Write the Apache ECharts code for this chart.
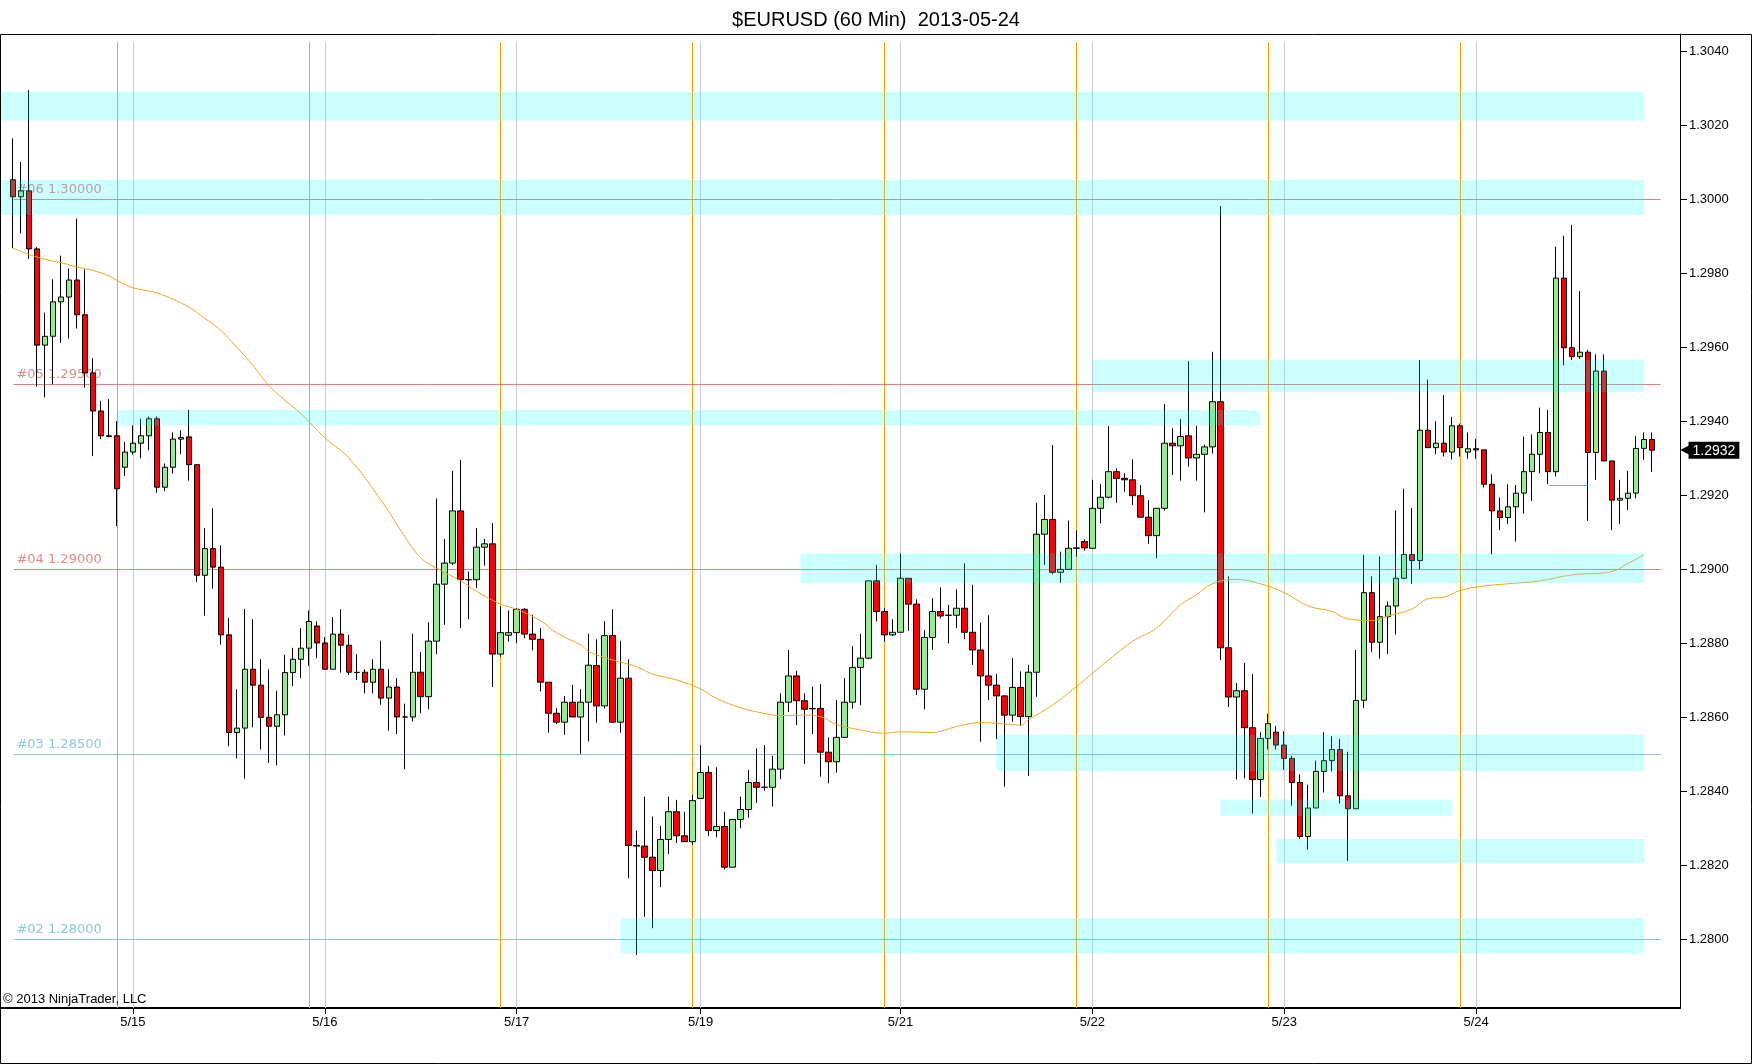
<!DOCTYPE html>
<html>
<head>
<meta charset="utf-8">
<title>$EURUSD (60 Min)</title>
<script src="https://cdn.jsdelivr.net/npm/echarts@6/dist/echarts.min.js"></script>
<style>
html, body { margin: 0; padding: 0; background: #fff; }
#chart { width: 1752px; height: 1064px; }
</style>
</head>
<body>
<div id="chart"></div>
<script>
// DATA

// hourly bars, [open, high, low, close]; the first one sits in slot 1
var bars = [
[1.30052,1.30164,1.29867,1.30006],[1.30006,1.30100,1.29907,1.30022],[1.30022,1.30294,1.29838,1.29865],[1.29865,1.29870,1.29493,1.29605],
[1.29605,1.29693,1.29464,1.29629],[1.29629,1.29783,1.29499,1.29722],[1.29722,1.29847,1.29611,1.29735],[1.29735,1.29812,1.29623,1.29781],
[1.29781,1.29947,1.29650,1.29687],[1.29687,1.29810,1.29490,1.29530],[1.29530,1.29570,1.29305,1.29427],[1.29427,1.29454,1.29351,1.29360],
[1.29360,1.29459,1.29356,1.29358],[1.29360,1.29400,1.29116,1.29217],[1.29275,1.29343,1.29251,1.29316],[1.29316,1.29388,1.29309,1.29340],
[1.29340,1.29406,1.29299,1.29360],[1.29360,1.29412,1.29321,1.29406],[1.29406,1.29412,1.29206,1.29221],[1.29221,1.29285,1.29210,1.29275],
[1.29275,1.29369,1.29258,1.29351],[1.29351,1.29375,1.29311,1.29355],[1.29357,1.29430,1.29239,1.29282],[1.29282,1.29282,1.28965,1.28983],
[1.28983,1.29110,1.28874,1.29055],[1.29055,1.29164,1.28947,1.29005],[1.29005,1.29064,1.28796,1.28822],[1.28822,1.28868,1.28521,1.28558],
[1.28558,1.28675,1.28488,1.28570],[1.28570,1.28892,1.28433,1.28729],[1.28729,1.28864,1.28572,1.28686],[1.28686,1.28756,1.28512,1.28599],
[1.28599,1.28729,1.28476,1.28575],[1.28575,1.28671,1.28469,1.28606],[1.28606,1.28768,1.28550,1.28720],[1.28720,1.28787,1.28684,1.28756],
[1.28756,1.28840,1.28705,1.28786],[1.28786,1.28888,1.28738,1.28858],[1.28846,1.28858,1.28759,1.28800],[1.28800,1.28816,1.28729,1.28729],
[1.28729,1.28870,1.28729,1.28824],[1.28824,1.28891,1.28720,1.28794],[1.28794,1.28822,1.28714,1.28721],[1.28721,1.28770,1.28700,1.28720],
[1.28721,1.28729,1.28664,1.28694],[1.28694,1.28756,1.28664,1.28729],[1.28729,1.28806,1.28633,1.28651],[1.28651,1.28729,1.28563,1.28681],
[1.28681,1.28705,1.28554,1.28600],[1.28600,1.28636,1.28459,1.28600],[1.28600,1.28825,1.28588,1.28721],[1.28721,1.28776,1.28610,1.28655],
[1.28655,1.28856,1.28621,1.28805],[1.28805,1.29191,1.28770,1.28959],[1.28959,1.29081,1.28849,1.29016],[1.29016,1.29265,1.29011,1.29157],
[1.29157,1.29295,1.28840,1.28971],[1.28971,1.28993,1.28864,1.28971],[1.28971,1.29110,1.28948,1.29059],[1.29059,1.29081,1.29009,1.29068],
[1.29068,1.29124,1.28681,1.28770],[1.28770,1.28899,1.28763,1.28828],[1.28821,1.28888,1.28804,1.28828],[1.28828,1.28894,1.28800,1.28891],
[1.28891,1.28894,1.28813,1.28824],[1.28824,1.28876,1.28780,1.28810],[1.28810,1.28840,1.28669,1.28694],[1.28694,1.28694,1.28558,1.28610],
[1.28610,1.28624,1.28581,1.28586],[1.28586,1.28657,1.28552,1.28640],[1.28640,1.28687,1.28600,1.28600],[1.28600,1.28675,1.28500,1.28640],
[1.28640,1.28825,1.28534,1.28740],[1.28739,1.28810,1.28585,1.28630],[1.28630,1.28859,1.28623,1.28820],[1.28820,1.28891,1.28586,1.28586],
[1.28586,1.28806,1.28558,1.28705],[1.28705,1.28756,1.28164,1.28253],[1.28253,1.28293,1.27957,1.28251],[1.28251,1.28385,1.28060,1.28221],
[1.28221,1.28331,1.28029,1.28185],[1.28185,1.28305,1.28140,1.28269],[1.28269,1.28385,1.28230,1.28344],[1.28344,1.28376,1.28259,1.28279],
[1.28279,1.28344,1.28263,1.28263],[1.28263,1.28389,1.28254,1.28374],[1.28380,1.28524,1.28380,1.28450],[1.28450,1.28468,1.28278,1.28293],
[1.28293,1.28464,1.28275,1.28304],[1.28304,1.28344,1.28188,1.28194],[1.28194,1.28323,1.28194,1.28323],[1.28323,1.28385,1.28299,1.28350],
[1.28350,1.28457,1.28328,1.28423],[1.28423,1.28515,1.28368,1.28410],[1.28410,1.28524,1.28401,1.28410],[1.28410,1.28495,1.28358,1.28459],
[1.28459,1.28664,1.28432,1.28640],[1.28640,1.28781,1.28613,1.28711],[1.28711,1.28725,1.28578,1.28644],[1.28644,1.28664,1.28473,1.28621],
[1.28623,1.28682,1.28554,1.28622],[1.28623,1.28689,1.28439,1.28505],[1.28505,1.28545,1.28421,1.28479],[1.28479,1.28646,1.28450,1.28545],
[1.28545,1.28705,1.28545,1.28640],[1.28640,1.28792,1.28623,1.28734],[1.28734,1.28824,1.28632,1.28759],[1.28759,1.28968,1.28756,1.28968],
[1.28968,1.29011,1.28858,1.28885],[1.28885,1.28894,1.28804,1.28822],[1.28822,1.28864,1.28819,1.28829],[1.28829,1.29042,1.28829,1.28975],
[1.28975,1.28975,1.28833,1.28905],[1.28905,1.28918,1.28659,1.28675],[1.28675,1.28835,1.28621,1.28815],[1.28815,1.28921,1.28781,1.28885],
[1.28885,1.28950,1.28867,1.28873],[1.28875,1.28903,1.28799,1.28875],[1.28875,1.28945,1.28840,1.28894],[1.28894,1.29015,1.28810,1.28829],
[1.28829,1.28957,1.28741,1.28781],[1.28781,1.28855,1.28533,1.28711],[1.28711,1.28875,1.28646,1.28686],[1.28686,1.28716,1.28540,1.28657],
[1.28657,1.28659,1.28412,1.28605],[1.28605,1.28759,1.28587,1.28680],[1.28680,1.28723,1.28576,1.28601],[1.28601,1.28741,1.28441,1.28721],
[1.28721,1.29179,1.28655,1.29094],[1.29094,1.29200,1.29011,1.29134],[1.29134,1.29335,1.28986,1.28991],[1.28991,1.29047,1.28963,1.28999],
[1.28999,1.29131,1.28999,1.29056],[1.29056,1.29105,1.29033,1.29057],[1.29074,1.29080,1.29050,1.29057],[1.29056,1.29241,1.29056,1.29164],
[1.29164,1.29230,1.29123,1.29194],[1.29194,1.29386,1.29191,1.29263],[1.29263,1.29272,1.29179,1.29245],[1.29245,1.29259,1.29209,1.29241],
[1.29241,1.29296,1.29173,1.29198],[1.29198,1.29227,1.29140,1.29140],[1.29140,1.29186,1.29068,1.29090],[1.29090,1.29164,1.29029,1.29164],
[1.29164,1.29446,1.29158,1.29340],[1.29340,1.29380,1.29254,1.29333],[1.29333,1.29405,1.29239,1.29358],[1.29360,1.29562,1.29277,1.29300],
[1.29300,1.29387,1.29239,1.29310],[1.29310,1.29336,1.29153,1.29330],[1.29330,1.29587,1.29312,1.29452],[1.29452,1.29981,1.28754,1.28787],
[1.28787,1.28980,1.28627,1.28654],[1.28654,1.28692,1.28431,1.28671],[1.28671,1.28746,1.28434,1.28571],[1.28571,1.28716,1.28339,1.28431],
[1.28431,1.28559,1.28384,1.28542],[1.28542,1.28609,1.28512,1.28582],[1.28559,1.28576,1.28512,1.28524],[1.28524,1.28562,1.28457,1.28488],
[1.28488,1.28495,1.28360,1.28423],[1.28423,1.28445,1.28271,1.28277],[1.28277,1.28417,1.28241,1.28354],[1.28354,1.28482,1.28354,1.28453],
[1.28453,1.28559,1.28396,1.28482],[1.28482,1.28548,1.28453,1.28512],[1.28512,1.28541,1.28366,1.28387],[1.28387,1.28506,1.28211,1.28352],
[1.28352,1.28781,1.28352,1.28645],[1.28645,1.29039,1.28624,1.28936],[1.28936,1.28980,1.28776,1.28802],[1.28802,1.29034,1.28758,1.28871],
[1.28871,1.28912,1.28770,1.28900],[1.28900,1.29158,1.28823,1.28975],[1.28975,1.29217,1.28972,1.29039],[1.29039,1.29165,1.28960,1.29023],
[1.29023,1.29565,1.28999,1.29375],[1.29375,1.29512,1.29328,1.29328],[1.29328,1.29399,1.29310,1.29340],[1.29340,1.29470,1.29304,1.29316],
[1.29316,1.29411,1.29296,1.29387],[1.29387,1.29393,1.29304,1.29328],[1.29316,1.29369,1.29298,1.29325],[1.29325,1.29352,1.29298,1.29322],
[1.29322,1.29322,1.29220,1.29229],[1.29229,1.29256,1.29040,1.29157],[1.29157,1.29193,1.29105,1.29139],[1.29139,1.29229,1.29121,1.29168],
[1.29168,1.29227,1.29074,1.29205],[1.29205,1.29358,1.29150,1.29263],[1.29263,1.29364,1.29184,1.29310],[1.29310,1.29436,1.29259,1.29369],
[1.29369,1.29430,1.29229,1.29263],[1.29263,1.29871,1.29250,1.29786],[1.29786,1.29901,1.29550,1.29598],[1.29598,1.29930,1.29565,1.29574],
[1.29574,1.29751,1.29568,1.29586],[1.29586,1.29592,1.29130,1.29315],[1.29315,1.29580,1.29241,1.29535],[1.29535,1.29580,1.29292,1.29292],
[1.29292,1.29292,1.29105,1.29186],[1.29186,1.29241,1.29121,1.29191],[1.29191,1.29265,1.29159,1.29205],[1.29205,1.29360,1.29191,1.29326],
[1.29326,1.29369,1.29295,1.29350],[1.29350,1.29369,1.29263,1.29321]
];
var firstSlot = 1;
var slotCount = 210;

// moving average: [slot, price]
var maPoints = [
[1,1.29867],[3,1.29850],[5,1.29837],[7,1.29828],[9,1.29816],[11,1.29807],[13,1.29792],[14,1.29780],[16,1.29760],
[19,1.29746],[23,1.29708],[25,1.29677],[27,1.29645],[29,1.29599],[31,1.29551],[33,1.29496],[35,1.29456],[37,1.29420],
[40,1.29355],[43,1.29300],[47,1.29187],[50,1.29088],[52,1.29030],[54,1.29002],[57,1.28968],[59,1.28939],[62,1.28905],
[64,1.28891],[67,1.28860],[69,1.28827],[72,1.28795],[73,1.28777],[76,1.28754],[79,1.28736],[81,1.28716],[84,1.28700],
[87,1.28676],[89,1.28650],[92,1.28625],[94,1.28614],[97,1.28604],[100,1.28605],[102,1.28601],[104,1.28580],[107,1.28565],
[110,1.28556],[112,1.28560],[116,1.28558],[119,1.28574],[122,1.28585],[124,1.28583],[127,1.28578],[128,1.28592],[131,1.28632],
[134,1.28682],[137,1.28736],[141,1.28804],[144,1.28840],[147,1.28903],[149,1.28930],[151,1.28960],[154,1.28972],[157,1.28960],
[160,1.28936],[163,1.28900],[166,1.28885],[168,1.28865],[171,1.28861],[173,1.28873],[176,1.28892],[178,1.28920],[180,1.28924],
[182,1.28942],[185,1.28954],[188,1.28960],[192,1.28968],[196,1.28984],[201,1.28993],[203,1.29015],[205,1.29038]
];

var dateLabels = [[16,'5/15'],[40,'5/16'],[64,'5/17'],[87,'5/19'],[112,'5/21'],[136,'5/22'],[160,'5/23'],[184,'5/24']];
var sessionBreaks = [14,38,62,86,110,134,158,182];
var priceTicks = [1.280,1.282,1.284,1.286,1.288,1.290,1.292,1.294,1.296,1.298,1.300,1.302,1.304];

// horizontal levels [name, price]
var levels = [['#06',1.30000],['#05',1.29500],['#04',1.29000],['#03',1.28500],['#02',1.28000]];
// zones [from slot, to slot, low, high]
var zones = [
[0,205.5,1.30212,1.30290],[0,205.5,1.29957,1.30051],[136.5,205.5,1.29478,1.29565],[14.5,157.5,1.29388,1.29430],
[100,205.5,1.28962,1.29042],[124.5,205.5,1.28454,1.28552],[152.5,181.5,1.28333,1.28377],[159.5,205.5,1.28205,1.28270],
[77.5,205.5,1.27961,1.28057]
];
// short drawn line [from slot, to slot, price]
var segment = [193.6,198.5,1.29227];
var lastPrice = 1.29321;

// CHART

var yMin = 1.278135, yMax = 1.304459, lineTop = 1.304243;
var font = 'Liberation Sans, Arial, sans-serif';

var slots = [];
for (var i = 0; i < slotCount; i++) slots.push(String(i));

var candleData = slots.map(function (s, i) {
	var b = bars[i - firstSlot];
	return b ? [b[0], b[3], b[2], b[1]] : '-';
});

var labelAt = {};
dateLabels.forEach(function (d) { labelAt[d[0]] = d[1]; });
function isLabelSlot(idx) { return labelAt[idx] !== undefined; }

function vLine(slot, color) {
	return [{ coord: [slot + 0.5, lineTop], lineStyle: { color: color, width: 1, type: 'solid' } },
		{ coord: [slot + 0.5, yMin] }];
}

var vLines = [];
sessionBreaks.forEach(function (s) { vLines.push(vLine(s, '#ffa500')); });
dateLabels.forEach(function (d) { vLines.push(vLine(d[0], '#cccccc')); });

var levelLines = levels.map(function (l) {
	var red = l[1] >= 1.29;
	var c = red ? '#e08080' : '#88c4dc';
	return [{
		coord: [1.55, l[1]],
		lineStyle: { color: c, width: 1, type: 'solid' },
		label: { show: true, position: 'insideStartTop', distance: [3, 3], color: red ? '#e88888' : '#8cc8e0',
			fontFamily: 'DejaVu Sans', fontSize: 13, formatter: l[0] + ' ' + l[1].toFixed(5) }
	}, { coord: [207.6, l[1]] }];
});
levelLines.push([{ coord: [segment[0], segment[2]], lineStyle: { color: '#33d6e6', width: 1, type: 'solid' } },
	{ coord: [segment[1], segment[2]] }]);

var zoneAreas = zones.map(function (z) {
	return [{ coord: [z[0], z[3]] }, { coord: [z[1], z[2]] }];
});

// last price tag on the price axis
var lastTag = [[{
	coord: [0, lastPrice],
	label: {
		show: true, position: 'end', distance: 0,
		formatter: '{a|\u25c0}{b|' + lastPrice.toFixed(4) + '}',
		rich: {
			a: { color: '#000', fontSize: 15, fontFamily: 'DejaVu Sans', padding: [0, -3, 0, 0] },
			b: { color: '#fff', backgroundColor: '#000', fontSize: 14, fontFamily: font, padding: [2, 4, 1, 4] }
		}
	}
}, { coord: [slotCount, lastPrice] }]];

var chart = echarts.init(document.getElementById('chart'));

var option = {
	animation: false,
	backgroundColor: '#fff',
	title: {
		text: '$EURUSD (60 Min)  2013-05-24',
		left: 'center', top: 5,
		textStyle: { fontFamily: font, fontSize: 20, fontWeight: 'normal', color: '#000' }
	},
	grid: { left: 1, right: 72, top: 34, bottom: 56, containLabel: false },
	xAxis: [{
		type: 'category', data: slots, boundaryGap: true,
		axisLine: { show: true, lineStyle: { color: '#000', width: 2 } },
		axisTick: { show: true, alignWithLabel: true, length: 6, interval: isLabelSlot, lineStyle: { color: '#000' } },
		axisLabel: { show: true, interval: isLabelSlot, margin: 8, color: '#000', fontFamily: font, fontSize: 13,
			formatter: function (v, idx) { return labelAt[idx] || ''; } },
		splitLine: { show: false }
	}, {
		type: 'value', min: 0, max: slotCount, show: false
	}],
	yAxis: {
		type: 'value', position: 'right', min: yMin, max: yMax, scale: true,
		axisLine: { show: true, onZero: false, lineStyle: { color: '#000', width: 1 } },
		axisTick: { show: true, length: 7, customValues: priceTicks, lineStyle: { color: '#000' } },
		axisLabel: { show: true, margin: 9, color: '#000', fontFamily: font, fontSize: 13, customValues: priceTicks,
			formatter: function (v) { return v.toFixed(4); } },
		splitLine: { show: false }
	},
	graphic: [{
		type: 'rect', z: 100, silent: true,
		shape: { x: 0.5, y: 34.5, width: 1751, height: 1029 },
		style: { fill: 'none', stroke: '#000', lineWidth: 1 }
	}, {
		type: 'text', left: 3, top: 993, z: 100, silent: true,
		style: { text: '\u00a9 2013 NinjaTrader, LLC', fill: '#000', font: '13px ' + font }
	}],
	series: [{
		// vertical session / date lines and horizontal levels, under the bars
		type: 'line', xAxisIndex: 1, data: [], z: 1, silent: true,
		markLine: { z: 1, silent: true, symbol: ['none', 'none'], label: { show: false }, data: vLines.concat(levelLines) }
	}, {
		type: 'candlestick', xAxisIndex: 0, data: candleData, barWidth: 6, z: 2,
		itemStyle: { color: '#90ee90', color0: '#ff0000', borderColor: '#000', borderColor0: '#000', borderWidth: 1 }
	}, {
		type: 'line', xAxisIndex: 1, z: 3, silent: true, showSymbol: false, smooth: 0.4,
		data: maPoints.map(function (p) { return [p[0] + 0.5, p[1]]; }),
		lineStyle: { color: '#f5a623', width: 1 }
	}, {
		// zones, drawn over the bars like the original
		type: 'line', xAxisIndex: 1, data: [], z: 4, silent: true,
		markArea: { z: 4, silent: true, itemStyle: { color: 'rgba(0,255,255,0.2)' }, data: zoneAreas }
	}, {
		type: 'line', xAxisIndex: 1, data: [], z: 8, silent: true,
		markLine: {
			z: 8, silent: true, symbol: ['none', 'none'],
			lineStyle: { color: 'rgba(0,0,0,0)', width: 0, type: 'solid' },
			data: lastTag
		}
	}]
};

chart.setOption(option);
</script>
</body>
</html>
